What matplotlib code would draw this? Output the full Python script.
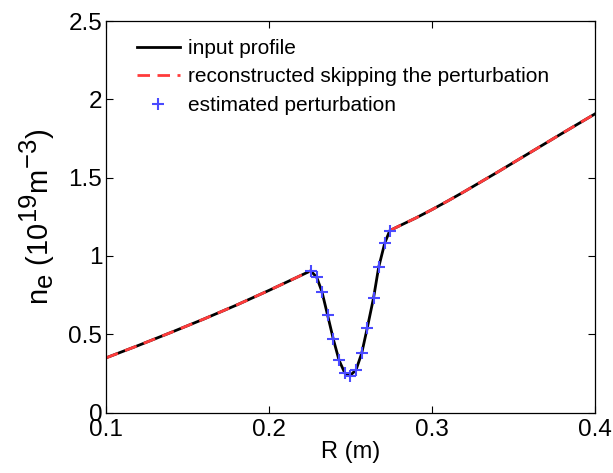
import numpy as np
import matplotlib
matplotlib.use("Agg")
import matplotlib.pyplot as plt
import matplotlib._mathtext as _mt

_mt.SHRINK_FACTOR = 0.88

plt.rcParams['font.family'] = ['Liberation Sans', 'DejaVu Sans']
plt.rcParams['mathtext.fontset'] = 'custom'
plt.rcParams['mathtext.rm'] = 'Liberation Sans'
plt.rcParams['mathtext.it'] = 'Liberation Sans'

# Outer profile (left and right of the perturbation)
r_left = [0.10, 0.12, 0.14, 0.16, 0.18, 0.20, 0.2254]
n_left = [0.35, 0.43, 0.513, 0.598, 0.687, 0.781, 0.905]
r_right = [0.2739, 0.28, 0.29, 0.30, 0.31, 0.32, 0.34, 0.36, 0.38, 0.40]
n_right = [1.162, 1.193, 1.243, 1.297, 1.354, 1.413, 1.535, 1.66, 1.785, 1.908]

# Estimated perturbation points
r_pert = [0.2254, 0.2291, 0.2323, 0.2358, 0.2393, 0.2428, 0.2464, 0.2495,
          0.2532, 0.2567, 0.2601, 0.2640, 0.2671, 0.2708, 0.2739]
n_pert = [0.904, 0.864, 0.772, 0.621, 0.468, 0.334, 0.251, 0.236,
          0.272, 0.379, 0.540, 0.734, 0.928, 1.081, 1.162]

fig = plt.figure(figsize=(6.13, 4.73), dpi=100)
ax = fig.add_axes([0.1734, 0.1277, 0.9711 - 0.1734, 0.9556 - 0.1277])

r_input = r_left + r_pert[1:-1] + r_right
n_input = n_left + n_pert[1:-1] + n_right
ax.plot(r_input, n_input, color='black', lw=2, label='input profile',
        solid_joinstyle='round')

r_rec = r_left + [np.nan] + r_right
n_rec = n_left + [np.nan] + n_right
ax.plot(r_rec, n_rec, color='#ff3b3b', lw=2, ls=(0, (4.5, 2.7)),
        label='reconstructed skipping the perturbation')

ax.plot(r_pert, n_pert, ls='none', marker='+', color='#4a4aff', ms=8, mew=1.5,
        label='estimated perturbation')

ax.set_xlim(0.1, 0.4)
ax.set_ylim(0, 2.5)
ax.set_xticks([0.1, 0.2, 0.3, 0.4])
ax.set_xticklabels(['0.1', '0.2', '0.3', '0.4'])
ax.set_yticks([0, 0.5, 1, 1.5, 2, 2.5])
ax.set_yticklabels(['0', '0.5', '1', '1.5', '2', '2.5'])
ax.tick_params(direction='in', top=True, right=True, labelsize=17.5, length=5, width=0.8)
ax.tick_params(axis='x', pad=4.5)
ax.tick_params(axis='y', pad=3)
for s in ax.spines.values():
    s.set_linewidth(0.9)

ax.set_xlabel('R (m)', fontsize=17, labelpad=0)
ax.set_ylabel(r'n$_\mathregular{e}$ (10$^\mathregular{19}$m$^\mathregular{-3}$)', fontsize=21, labelpad=8)

leg = ax.legend(loc='upper left', frameon=False, fontsize=15, handlelength=2.07,
                handletextpad=0.4, labelspacing=0.45, borderaxespad=0.0,
                bbox_to_anchor=(0.045, 0.975))

fig.savefig('out.png', dpi=100)
